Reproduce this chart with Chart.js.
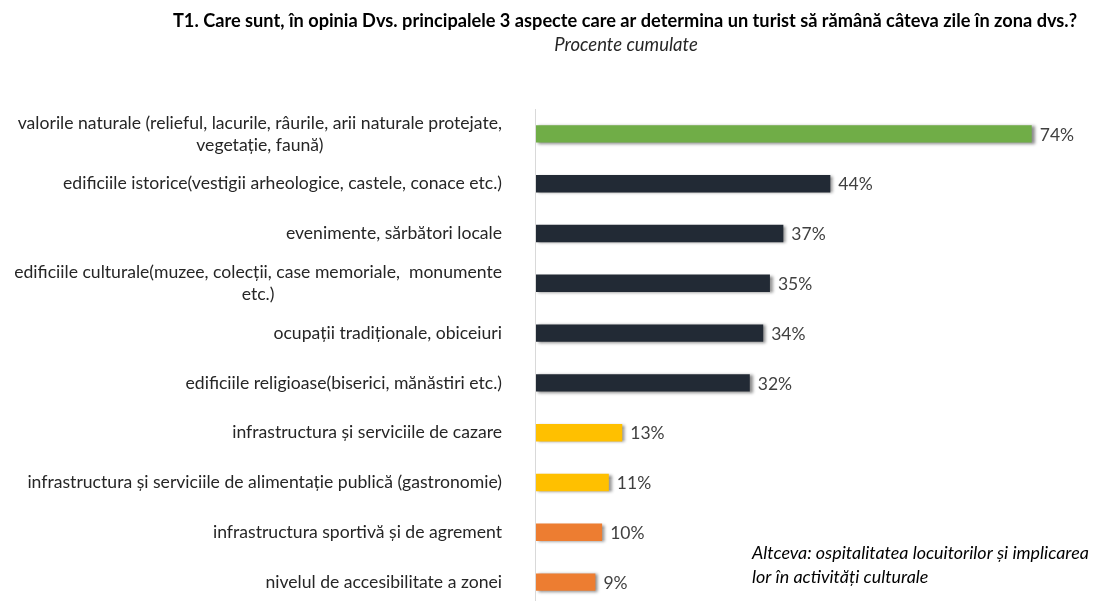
<!DOCTYPE html>
<html>
<head>
<meta charset="utf-8">
<script src="https://cdn.jsdelivr.net/npm/chart.js@4"></script>
<style>
  html, body { margin:0; padding:0; background:#fff; overflow:hidden; }
  #wrap { width:1116px; height:601px; overflow:hidden; }
</style>
</head>
<body>
<div id="wrap"><canvas id="ch" width="1116" height="610"></canvas></div>
<script>
'use strict';
/* T1 — aspecte care ar determina un turist să rămână */

const CATS = [
  ['valorile naturale (relieful, lacurile, râurile, arii naturale protejate,', 'vegetație, faună)'],
  ['edificiile istorice(vestigii arheologice, castele, conace etc.)'],
  ['evenimente, sărbători locale'],
  ['edificiile culturale(muzee, colecții, case memoriale,  monumente', 'etc.)'],
  ['ocupații tradiționale, obiceiuri'],
  ['edificiile religioase(biserici, mănăstiri etc.)'],
  ['infrastructura și serviciile de cazare'],
  ['infrastructura și serviciile de alimentație publică (gastronomie)'],
  ['infrastructura sportivă și de agrement'],
  ['nivelul de accesibilitate a zonei']
];
const VALUES = [74, 44, 37, 35, 34, 32, 13, 11, 10, 9];
const GROUP  = ['nat','dark','dark','dark','dark','dark','yel','yel','org','org'];

const TITLE    = 'T1. Care sunt, în opinia Dvs. principalele 3 aspecte care ar determina un turist să rămână câteva zile în zona dvs.?';
const SUBTITLE = 'Procente cumulate';
const NOTE     = ['Altceva: ospitalitatea locuitorilor și implicarea', 'lor în activități culturale'];

const C = { nat:'#70ad47', dark:'#222a35', yel:'#ffc000', org:'#ed7d31' };
const FONT = 'Lato, "Open Sans", sans-serif';

/* ── shadow behind bars ── */
const shadow = {
  id:'shadow',
  beforeDatasetsDraw(chart) {
    const ctx = chart.ctx; ctx.save();
    ctx.shadowColor = 'rgba(0,0,0,.45)';
    ctx.shadowOffsetX = 3; ctx.shadowOffsetY = 1; ctx.shadowBlur = 3;
  },
  afterDatasetsDraw(chart) { chart.ctx.restore(); }
};

/* ── labels, values, axis line, titles ── */
const deco = {
  id:'deco',
  afterDraw(chart) {
    const ctx = chart.ctx, a = chart.chartArea, y = chart.scales.y, x = chart.scales.x;
    ctx.save();
    // axis line
    ctx.strokeStyle = '#d9d9d9'; ctx.lineWidth = 1;
    ctx.beginPath(); ctx.moveTo(a.left + .5, a.top); ctx.lineTo(a.left + .5, a.bottom); ctx.stroke();

    // category labels (right block, wrapped lines centred on the block)
    ctx.font = '17.6px ' + FONT; ctx.fillStyle = '#262626'; ctx.textBaseline = 'middle';
    const right = a.left - 33;
    CATS.forEach((lines, i) => {
      const cy = y.getPixelForValue(i);
      const w = Math.max(...lines.map(l => ctx.measureText(l).width));
      const lh = 22, y0 = cy - (lines.length - 1) * lh / 2;
      lines.forEach((l, j) => {
        if (lines.length === 1) { ctx.textAlign = 'right'; ctx.fillText(l, right, y0); }
        else { ctx.textAlign = 'center'; ctx.fillText(l, right - w / 2, y0 + j * lh); }
      });
    });

    // value labels
    ctx.font = '17.5px ' + FONT; ctx.fillStyle = '#404040'; ctx.textAlign = 'left';
    VALUES.forEach((v, i) => ctx.fillText(v + '%', x.getPixelForValue(v) + 8, y.getPixelForValue(i) + 1));

    // title + subtitle
    ctx.textAlign = 'center';
    ctx.font = 'bold 18.2px ' + FONT; ctx.fillStyle = '#000';
    ctx.fillText(TITLE, 625, 21);
    ctx.font = 'italic 18.5px ' + FONT; ctx.fillStyle = '#262626';
    ctx.fillText(SUBTITLE, 626, 45);

    // note
    ctx.textAlign = 'left'; ctx.font = 'italic 17.9px ' + FONT; ctx.fillStyle = '#000';
    NOTE.forEach((l, j) => ctx.fillText(l, 752, 553 + j * 24));
    ctx.restore();
  }
};

new Chart(document.getElementById('ch'), {
  type:'bar',
  data:{
    labels: CATS.map(l => l.join(' ')),
    datasets:[{ data:VALUES, backgroundColor:GROUP.map(g => C[g]),
      barPercentage:0.35, categoryPercentage:1, borderWidth:0 }]
  },
  options:{
    indexAxis:'y', responsive:false, animation:false,
    layout:{ padding:{ left:535, right:44, top:109, bottom:3 } },
    plugins:{ legend:{display:false}, tooltip:{enabled:false} },
    scales:{
      x:{ display:false, min:0, max:80 },
      y:{ display:false }
    }
  },
  plugins:[shadow, deco]
});
</script>
</body>
</html>
